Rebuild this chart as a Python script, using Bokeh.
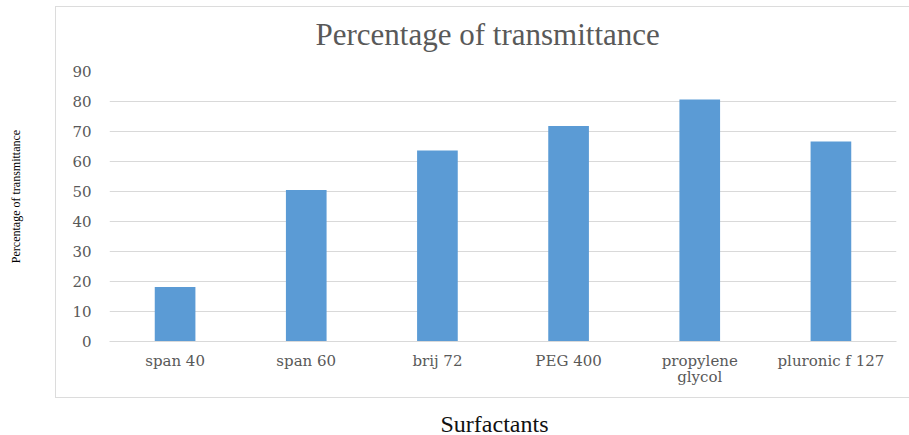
import math
from bokeh.plotting import figure
from bokeh.models import ColumnDataSource, FixedTicker, Range1d, FactorRange, Label
from bokeh.layouts import row, column
from bokeh.embed import file_html
from bokeh.resources import INLINE

# ---- data ----
surfactants = ["span 40", "span 60", "brij 72", "PEG 400", "propylene\nglycol", "pluronic f 127"]
transmittance = [18.2, 50.5, 63.7, 71.8, 80.7, 66.7]
y_ticks = [0, 10, 20, 30, 40, 50, 60, 70, 80, 90]
title_text = "Percentage of transmittance"
x_title = "Surfactants"
y_title = "Percentage of transmittance"

BAR = "#5B9BD5"
GRID = "#d9d9d9"
BORDER = "#dcdcdc"
GREY_TXT = "#595959"


def strip(width, height):
    f = figure(width=width, height=height, x_range=Range1d(0, width), y_range=Range1d(0, height),
               x_axis_location=None, y_axis_location=None,
               output_backend="svg", toolbar_location=None, tools="", min_border=0)
    f.grid.visible = False
    f.outline_line_color = None
    f.background_fill_color = "white"
    f.border_fill_color = "white"
    return f


src = ColumnDataSource(dict(x=surfactants, y=transmittance))

# ---- title strip (top of the bordered chart area) ----
top = strip(854, 50)
top.styles = {"border-top": f"1.5px solid {BORDER}", "border-left": f"1.5px solid {BORDER}",
              "box-sizing": "border-box"}
top.add_layout(Label(x=206, y=23, x_units="screen", y_units="screen", text=title_text,
                     text_align="left", text_baseline="middle",
                     text_font="Liberation Serif", text_font_size="31px", text_color=GREY_TXT))
top.margin = (6, 0, 0, 0)

# ---- main chart ----
p = figure(
    width=854, height=342,
    x_range=FactorRange(*surfactants, range_padding=0),
    y_range=Range1d(0, 90),
    output_backend="svg", toolbar_location=None, tools="",
    min_border_left=53, min_border_right=14, min_border_top=15, min_border_bottom=57,
)
p.styles = {"border-left": f"1.5px solid {BORDER}", "border-bottom": f"1.5px solid {BORDER}",
            "box-sizing": "border-box"}
p.vbar(x="x", top="y", width=0.31, source=src, color=BAR, line_color=None)

p.outline_line_color = None
p.background_fill_color = "white"
p.border_fill_color = "white"

p.xgrid.grid_line_color = None
p.ygrid.grid_line_color = GRID
p.ygrid.grid_line_width = 1
p.ygrid.ticker = FixedTicker(ticks=y_ticks)

p.yaxis.ticker = FixedTicker(ticks=y_ticks)
p.yaxis.axis_line_color = None
p.yaxis.major_tick_line_color = None
p.yaxis.minor_tick_line_color = None
p.yaxis.major_tick_out = 0
p.yaxis.major_tick_in = 0
p.yaxis.major_label_standoff = 18
p.yaxis.major_label_text_font = "DejaVu Serif"
p.yaxis.major_label_text_font_size = "15px"
p.yaxis.major_label_text_color = GREY_TXT

p.xaxis.axis_line_color = GRID
p.xaxis.axis_line_width = 1
p.xaxis.major_tick_line_color = None
p.xaxis.minor_tick_line_color = None
p.xaxis.major_tick_out = 0
p.xaxis.major_tick_in = 0
p.xaxis.major_label_standoff = 10
p.xaxis.major_label_text_font = "DejaVu Serif"
p.xaxis.major_label_text_font_size = "15px"
p.xaxis.major_label_text_line_height = 0.9
p.xaxis.major_label_text_color = GREY_TXT

# ---- left strip: y-axis title, outside the chart area ----
left = strip(55, 435)
left.add_layout(Label(x=15, y=239, x_units="screen", y_units="screen", text=y_title,
                      angle=math.pi / 2, text_align="center", text_baseline="middle",
                      text_font="Liberation Serif", text_font_size="12px", text_color="#000000"))

# ---- bottom strip: x-axis title, below the chart area ----
bottom = strip(854, 37)
bottom.add_layout(Label(x=386, y=12, x_units="screen", y_units="screen", text=x_title,
                        text_align="center", text_baseline="middle",
                        text_font="Liberation Serif", text_font_size="24px", text_color="#111111"))

layout = row(left, column(top, p, bottom))

open("out.html", "w").write(file_html(layout, INLINE))
